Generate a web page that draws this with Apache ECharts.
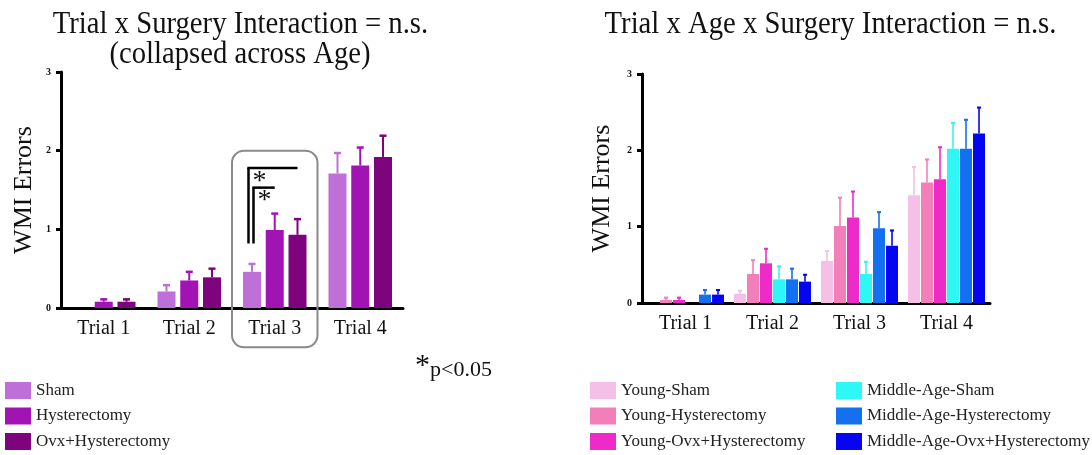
<!DOCTYPE html>
<html>
<head>
<meta charset="utf-8">
<script src="https://cdn.jsdelivr.net/npm/echarts@6/dist/echarts.min.js"></script>
<style>
  html, body { margin: 0; padding: 0; background: #fff; }
  #chart { width: 1092px; height: 455px; }
</style>
</head>
<body>
<div id="chart"></div>
<script>
// ---- data ----
const trials = ['Trial 1', 'Trial 2', 'Trial 3', 'Trial 4'];

// Surgery groups, collapsed across age (mean WMI errors and SEM per trial)
const surgeryGroups = ['Sham', 'Hysterectomy', 'Ovx+Hysterectomy'];
const shamMean = [0, 0.21, 0.46, 1.71];
const shamErr  = [0, 0.08, 0.10, 0.26];
const hystMean = [0.08, 0.35, 0.99, 1.81];
const hystErr  = [0.03, 0.11, 0.21, 0.23];
const ovxMean  = [0.08, 0.39, 0.93, 1.92];
const ovxErr   = [0.03, 0.11, 0.20, 0.27];

// Trial 3 pairwise differences vs Sham (p<0.05): [from group, to group], bracket level
const sigTrial = 2;
const sigPairs = [[0, 2], [0, 1]];
const sigLevel = [1.78, 1.53];
const sigBase = 0.82;
// highlighted trial box, value range
const boxTrial = 2;
const boxRange = [2.0, -0.5];

// Age x surgery groups
const ageGroups = ['Young-Sham', 'Young-Hysterectomy', 'Young-Ovx+Hysterectomy',
                   'Middle-Age-Sham', 'Middle-Age-Hysterectomy', 'Middle-Age-Ovx+Hysterectomy'];
const youngShamMean = [0, 0.12, 0.55, 1.41];
const youngShamErr  = [0, 0.04, 0.13, 0.37];
const youngHystMean = [0.04, 0.38, 1.01, 1.58];
const youngHystErr  = [0.03, 0.18, 0.37, 0.30];
const youngOvxMean  = [0.04, 0.52, 1.12, 1.62];
const youngOvxErr   = [0.03, 0.19, 0.34, 0.42];
const midShamMean   = [0, 0.31, 0.38, 2.02];
const midShamErr    = [0, 0.17, 0.16, 0.34];
const midHystMean   = [0.11, 0.31, 0.98, 2.02];
const midHystErr    = [0.06, 0.14, 0.21, 0.38];
const midOvxMean    = [0.11, 0.28, 0.75, 2.22];
const midOvxErr     = [0.06, 0.09, 0.20, 0.34];

const yMin = 0, yMax = 3, yStep = 1;

// ---- styles ----
const SERIF = "'Liberation Serif', 'Times New Roman', serif";
const INK = '#111';
const leftColors = ['#bf6fd8', '#a213b4', '#7e047e'];
const rightColors = ['#f5c0e7', '#f27fba', '#ee2bc8', '#2ff7f5', '#1371f1', '#0505f2'];

const leftBarW = 18, leftGap = 0.264;
const rightBarW = 12, rightGap = 0.0834;

function barSeries(name, axis, values, color, barW, gap) {
  return {
    name, type: 'bar', xAxisIndex: axis, yAxisIndex: axis,
    data: values, barWidth: barW, barGap: (gap * 100) + '%',
    itemStyle: { color }, silent: true, z: 2
  };
}

// one-sided (upper) SEM bars with caps
function errSeries(name, axis, means, errs, slot, nSlots, barW, gap, color, lw, cap) {
  const step = barW * (1 + gap);
  return {
    name: name + ' SEM', type: 'custom', xAxisIndex: axis, yAxisIndex: axis,
    silent: true, z: 3,
    encode: { x: 0, y: [1, 2] },
    data: means.map((m, i) => [i, m, m + errs[i]]),
    renderItem(params, api) {
      const m = api.value(1), hi = api.value(2);
      if (hi <= m) return null;
      const base = api.coord([api.value(0), m]);
      const tip = api.coord([api.value(0), hi]);
      const x = base[0] + (slot - (nSlots - 1) / 2) * step;
      const st = { stroke: color, lineWidth: lw };
      return {
        type: 'group', children: [
          { type: 'line', shape: { x1: x, y1: base[1], x2: x, y2: tip[1] }, style: st },
          { type: 'line', shape: { x1: x - cap / 2, y1: tip[1], x2: x + cap / 2, y2: tip[1] },
            style: { stroke: color, lineWidth: lw + 0.5 } }
        ]
      };
    }
  };
}

function xAxisOf(grid) {
  return {
    type: 'category', gridIndex: grid, data: trials,
    axisLine: { lineStyle: { color: '#000', width: 3 } },
    axisTick: { alignWithLabel: true, length: 5, lineStyle: { color: '#000', width: 3 } },
    axisLabel: { fontFamily: SERIF, fontSize: 20, color: INK, margin: 11 }
  };
}
function yAxisOf(grid, gap) {
  return {
    type: 'value', gridIndex: grid, min: yMin, max: yMax, interval: yStep,
    axisLine: { show: true, lineStyle: { color: '#000', width: 3 } },
    axisTick: { show: true, length: 5, lineStyle: { color: '#000', width: 3 } },
    splitLine: { show: false },
    axisLabel: { fontFamily: SERIF, fontSize: 10, fontWeight: 'bold', color: INK, margin: 10 },
    name: 'WMI Errors', nameLocation: 'middle', nameGap: gap,
    nameTextStyle: { fontFamily: SERIF, fontSize: 26, color: INK }
  };
}
function legendOf(left, data) {
  return {
    orient: 'vertical', left, top: 382, padding: 0,
    itemWidth: 26, itemHeight: 17, itemGap: 8.5, icon: 'rect',
    selectedMode: false, data,
    textStyle: { fontFamily: SERIF, fontSize: 17, color: '#222' }
  };
}
// narrow headline text (condensed serif look)
function headline(text, x, y) {
  return {
    type: 'text', x, y, scaleX: 0.925, silent: true,
    style: { text, font: '31px ' + SERIF, fill: INK, align: 'center', verticalAlign: 'middle' }
  };
}
function note(text, x, y, size) {
  return {
    type: 'text', x, y, silent: true,
    style: { text, font: size + 'px ' + SERIF, fill: INK, align: 'left', verticalAlign: 'top' }
  };
}

const leftMeans = [shamMean, hystMean, ovxMean];
const leftErrs = [shamErr, hystErr, ovxErr];
const rightMeans = [youngShamMean, youngHystMean, youngOvxMean, midShamMean, midHystMean, midOvxMean];
const rightErrs = [youngShamErr, youngHystErr, youngOvxErr, midShamErr, midHystErr, midOvxErr];

const series = [];
surgeryGroups.forEach((g, i) => series.push(barSeries(g, 0, leftMeans[i], leftColors[i], leftBarW, leftGap)));
ageGroups.forEach((g, i) => series.push(barSeries(g, 1, rightMeans[i], rightColors[i], rightBarW, rightGap)));
surgeryGroups.forEach((g, i) => series.push(errSeries(g, 0, leftMeans[i], leftErrs[i], i, 3, leftBarW, leftGap, leftColors[i], 2, 7)));
ageGroups.forEach((g, i) => series.push(errSeries(g, 1, rightMeans[i], rightErrs[i], i, 6, rightBarW, rightGap, rightColors[i], 1.6, 4)));

// rounded box around the highlighted trial
series.push({
  type: 'custom', xAxisIndex: 0, yAxisIndex: 0, silent: true, clip: false, z: 1,
  data: [[boxTrial, boxRange[0], boxRange[1]]],
  renderItem(params, api) {
    const c = api.value(0);
    const top = api.coord([c, api.value(1)]);
    const bot = api.coord([c, api.value(2)]);
    const bw = api.size([1, 0])[0];
    return {
      type: 'rect',
      shape: { x: top[0] - bw / 2, y: top[1], width: bw, height: bot[1] - top[1], r: 12 },
      style: { fill: 'none', stroke: '#8a8a8a', lineWidth: 2 }
    };
  }
});

// significance brackets with asterisks
const leftStep = leftBarW * (1 + leftGap);
series.push({
  type: 'custom', xAxisIndex: 0, yAxisIndex: 0, silent: true, clip: false, z: 4,
  data: sigPairs.map((p, k) => [sigTrial, p[0], p[1], sigLevel[k], sigBase]),
  renderItem(params, api) {
    const c = api.value(0);
    const cx = api.coord([c, 0])[0];
    const xFrom = cx + (api.value(1) - 1) * leftStep - 3.5 + 5 * params.dataIndex;
    const xTo = cx + (api.value(2) - 1) * leftStep;
    const yTop = api.coord([c, api.value(3)])[1];
    const yBot = api.coord([c, api.value(4)])[1];
    const st = { stroke: '#000', lineWidth: 2.5 };
    return {
      type: 'group', children: [
        { type: 'line', shape: { x1: xFrom, y1: yBot, x2: xFrom, y2: yTop }, style: st },
        { type: 'line', shape: { x1: xFrom - 1.2, y1: yTop, x2: xTo, y2: yTop }, style: st },
        { type: 'text', style: { text: '*', x: xFrom + 11, y: yTop + 13.5, align: 'center',
            verticalAlign: 'middle', font: '28px ' + SERIF, fill: INK } }
      ]
    };
  }
});

const option = {
  animation: false,
  backgroundColor: '#fff',
  graphic: [
    headline('Trial x Surgery Interaction = n.s.', 240.5, 25),
    headline('(collapsed across Age)', 240, 55),
    headline('Trial x Age x Surgery Interaction = n.s.', 830.5, 25),
    note('*', 415, 351, 30),
    note('p<0.05', 430, 359, 22)
  ],
  legend: [
    legendOf(5, surgeryGroups),
    legendOf(590, ageGroups.slice(0, 3)),
    legendOf(836, ageGroups.slice(3))
  ],
  grid: [
    { left: 61, right: 689, top: 72, bottom: 147 },
    { left: 642, right: 102, top: 74, bottom: 152 }
  ],
  xAxis: [xAxisOf(0), xAxisOf(1)],
  yAxis: [yAxisOf(0, 24), yAxisOf(1, 27)],
  series
};

const chart = echarts.init(document.getElementById('chart'), null, { renderer: 'canvas' });
chart.setOption(option);
</script>
</body>
</html>
